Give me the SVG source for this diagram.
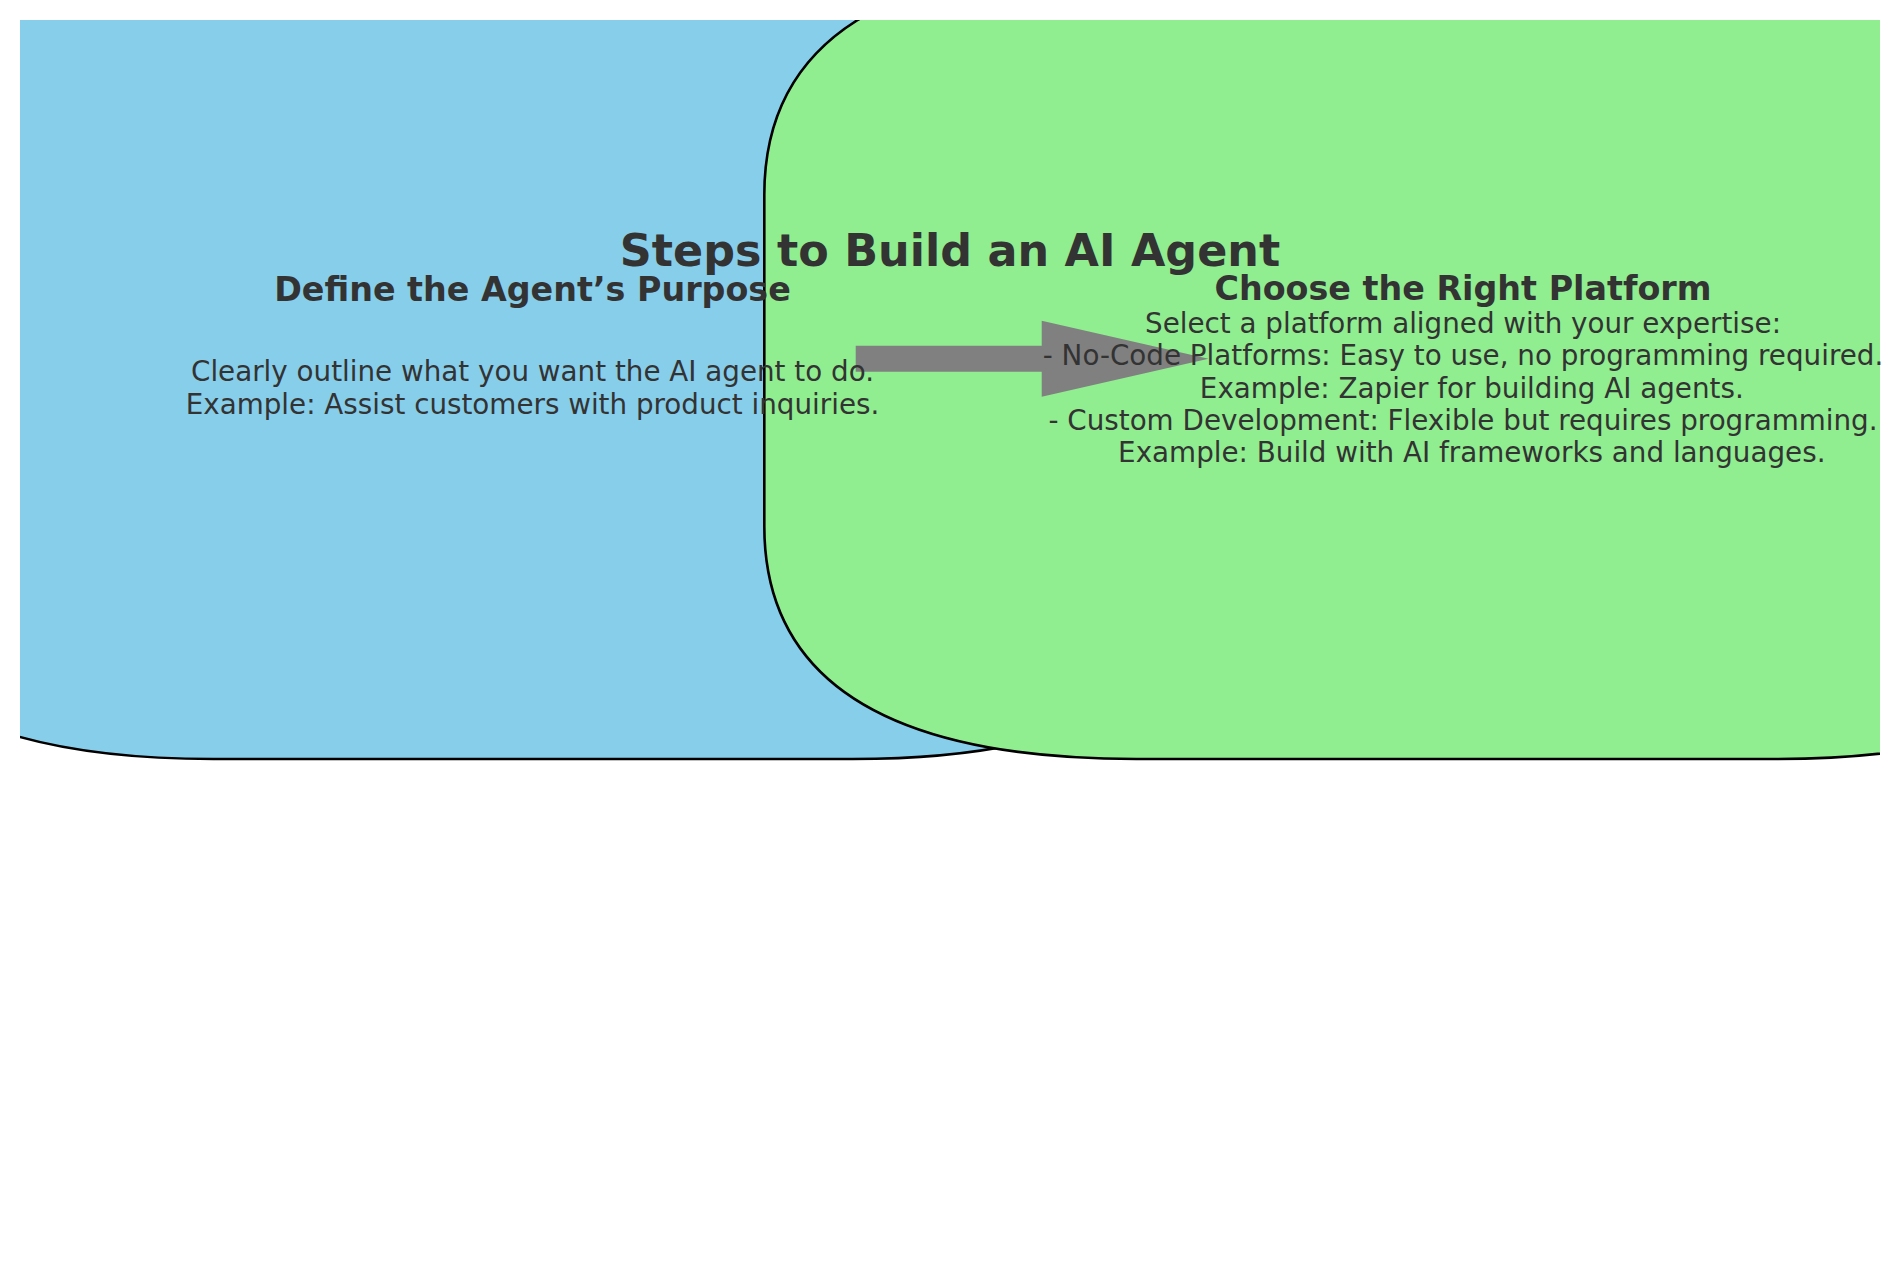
<svg xmlns="http://www.w3.org/2000/svg" width="1901" height="1272" viewBox="0 0 1901 1272">
  <style>
    .box { stroke: #000000; stroke-width: 2.6; }
    .txt { font-family: "DejaVu Sans", "Liberation Sans", sans-serif; fill: #333333; text-anchor: middle; }
    .title { font-size: 44.44px; font-weight: bold; }
    .head { font-size: 33.33px; font-weight: bold; }
    .body { font-size: 27.78px; }
    .arrow { fill: #808080; stroke: none; }
  </style>
  <defs>
    <clipPath id="axes">
      <rect x="20" y="20" width="1860" height="1232"/>
    </clipPath>
  </defs>
  <rect x="0" y="0" width="1901" height="1272" fill="#ffffff"/>
  <g clip-path="url(#axes)">
    <g id="node-define">
      <path class="box" fill="#87CEEB" d="M 213.4,-38 L 852.6,-38 Q 1224.6,-38 1224.6,195 L 1224.6,526 Q 1224.6,759 852.6,759 L 213.4,759 Q -158.6,759 -158.6,526 L -158.6,195 Q -158.6,-38 213.4,-38 Z"/>
    </g>
    <g id="node-platform">
      <path class="box" fill="#90EE90" d="M 1136.3,-38 L 1775.5,-38 Q 2147.5,-38 2147.5,195 L 2147.5,526 Q 2147.5,759 1775.5,759 L 1136.3,759 Q 764.3,759 764.3,526 L 764.3,195 Q 764.3,-38 1136.3,-38 Z"/>
    </g>
  </g>
  <g id="connectors">
    <polygon class="arrow" points="855.7,345.7 1041.7,345.7 1041.7,320.7 1208.5,358.7 1041.7,396.7 1041.7,371.7 855.7,371.7"/>
  </g>
  <g id="node-define-label" class="txt">
    <text class="head" x="532.5" y="301">Define the Agent’s Purpose</text>
    <text class="body" x="532.5" y="381">Clearly outline what you want the AI agent to do.</text>
    <text class="body" x="532.5" y="414">Example: Assist customers with product inquiries.</text>
  </g>
  <g id="node-platform-label" class="txt">
    <text class="head" x="1463" y="300">Choose the Right Platform</text>
    <text class="body" x="1463" y="332.7">Select a platform aligned with your expertise:</text>
    <text class="body" x="1463" y="365">- No-Code Platforms: Easy to use, no programming required.</text>
    <text class="body" x="1471.8" y="398">Example: Zapier for building AI agents.</text>
    <text class="body" x="1463" y="430">- Custom Development: Flexible but requires programming.</text>
    <text class="body" x="1471.8" y="462">Example: Build with AI frameworks and languages.</text>
  </g>
  <g id="title" class="txt">
    <text class="title" x="950" y="266">Steps to Build an AI Agent</text>
  </g>
</svg>
